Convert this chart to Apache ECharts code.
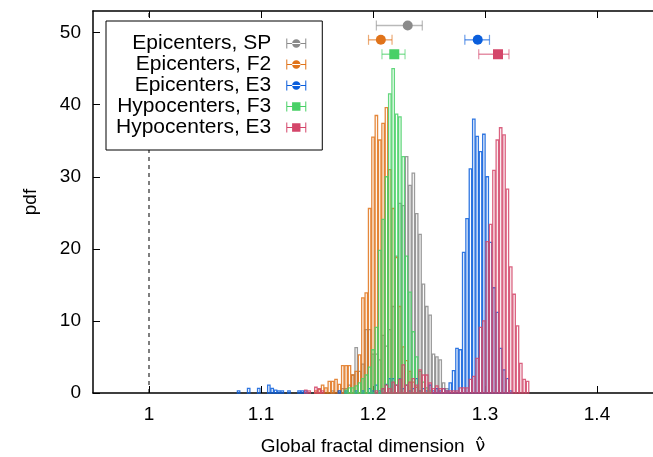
<!DOCTYPE html>
<html>
<head>
<meta charset="utf-8">
<script src="https://cdn.jsdelivr.net/npm/echarts@6/dist/echarts.min.js"></script>
<style>
  html, body { margin: 0; padding: 0; background: #fff; }
  #chart { width: 653px; height: 457px; }
</style>
</head>
<body>
<div id="chart"></div>
<script>
  // histogram bin centres (bin width 0.003)
  const binCenters = [
    1.077, 1.080, 1.083, 1.086, 1.089, 1.092, 1.095, 1.098, 1.101, 1.104,
    1.107, 1.110, 1.113, 1.116, 1.119, 1.122, 1.125, 1.128, 1.131, 1.134,
    1.137, 1.140, 1.143, 1.146, 1.149, 1.152, 1.155, 1.158, 1.161, 1.164,
    1.167, 1.170, 1.173, 1.176, 1.179, 1.182, 1.185, 1.188, 1.191, 1.194,
    1.197, 1.200, 1.203, 1.206, 1.209, 1.212, 1.215, 1.218, 1.221, 1.224,
    1.227, 1.230, 1.233, 1.236, 1.239, 1.242, 1.245, 1.248, 1.251, 1.254,
    1.257, 1.260, 1.263, 1.266, 1.269, 1.272, 1.275, 1.278, 1.281, 1.284,
    1.287, 1.290, 1.293, 1.296, 1.299, 1.302, 1.305, 1.308, 1.311, 1.314,
    1.317, 1.320, 1.323, 1.326, 1.329, 1.332, 1.335, 1.338
  ]

  const pdfEpiSP = [
    0, 0, 0, 0, 0, 0, 0, 0, 0, 0,
    0, 0, 0, 0, 0, 0, 0, 0, 0, 0,
    0, 0, 0, 0, 0, 0, 0, 0, 0, 0.3,
    0, 0.3, 0.6, 0.6, 1.1, 2.5, 6.3, 3.0, 4.0, 8.8,
    8.8, 5.4, 5.4, 4.6, 8.0, 6.5, 8.8, 12.0, 19.0, 26.3,
    26.0, 32.8, 28.8, 30.5, 24.9, 22.0, 15.1, 12.0, 10.8, 5.4,
    5.0, 4.6, 1.4, 0.6, 0, 0, 0, 0, 0, 0,
    0, 0, 0, 0, 0, 0, 0, 0, 0, 0,
    0, 0, 0, 0, 0, 0, 0, 0
  ]
  const pdfEpiF2 = [
    0, 0, 0, 0, 0, 0, 0, 0, 0, 0,
    0, 0, 0, 0, 0, 0, 0, 0, 0, 0,
    0, 0, 0, 0, 0.3, 0.5, 1.1, 0.7, 1.6, 1.6,
    1.9, 1.2, 3.8, 3.8, 3.8, 2.5, 3.0, 5.3, 13.2, 13.9,
    25.6, 35.5, 38.5, 35.1, 37.4, 39.6, 31.0, 25.6, 18.8, 12.0,
    6.4, 4.5, 3.0, 1.5, 0.8, 0.3, 0, 0, 0, 0,
    0, 0, 0, 0, 0, 0, 0, 0, 0, 0,
    0, 0, 0, 0, 0, 0, 0, 0, 0, 0,
    0, 0, 0, 0, 0, 0, 0, 0
  ]
  const pdfEpiE3 = [
    0, 0.3, 0, 0, 0.65, 0, 0, 0.65, 0, 0,
    1.1, 0.65, 0.4, 0.3, 0.3, 0, 0.3, 0, 0, 0.3,
    0.3, 0.3, 0, 0, 0, 0, 0, 0, 0, 0,
    0, 0.3, 0, 0.3, 0, 0, 0.3, 0, 0.3, 0,
    0.6, 0.3, 1.1, 0.3, 0.6, 1.2, 2.0, 2.0, 1.1, 2.0,
    0.6, 1.1, 0.3, 0.6, 2.0, 0.3, 0.6, 0.3, 1.1, 0.3,
    0.6, 0.3, 0.6, 0.3, 1.4, 3.1, 6.2, 6.0, 19.5, 24.2,
    31.1, 38.0, 35.6, 33.5, 35.9, 30.0, 20.9, 14.6, 11.2, 6.2,
    3.2, 2.0, 0.3, 0, 0, 0, 0, 0
  ]
  const pdfHypoF3 = [
    0, 0, 0, 0, 0, 0, 0, 0, 0, 0,
    0, 0, 0, 0, 0, 0, 0, 0, 0, 0,
    0, 0, 0, 0, 0, 0, 0, 0, 0, 0,
    0, 0, 0, 0.4, 0.7, 0.7, 1.0, 1.4, 2.0, 2.5,
    3.6, 6.0, 9.1, 19.8, 24.1, 30.0, 41.5, 45.0, 38.7, 38.3,
    32.8, 19.0, 14.0, 8.5, 5.0, 3.0, 1.5, 0.7, 0.3, 0,
    0, 0, 0, 0, 0, 0, 0, 0, 0, 0,
    0, 0, 0, 0, 0, 0, 0, 0, 0, 0,
    0, 0, 0, 0, 0, 0, 0, 0
  ]
  const pdfHypoE3 = [
    0, 0, 0, 0, 0, 0, 0, 0, 0, 0,
    0, 0, 0, 0, 0, 0, 0, 0, 0, 0,
    0, 0.4, 0.3, 0, 0.8, 0.6, 0.3, 0, 0, 0,
    0, 0, 0, 0, 0, 0, 0, 0, 0, 0,
    0, 0, 0.3, 0, 0.6, 1.1, 0.6, 1.5, 1.1, 1.9,
    3.9, 1.1, 1.5, 2.0, 1.1, 3.2, 2.5, 2.5, 1.4, 0.6,
    1.0, 0.6, 0.6, 0.3, 0.3, 0.3, 0.3, 0.7, 0.7, 0.7,
    1.9, 2.3, 4.8, 9.1, 10.0, 21.0, 23.4, 30.9, 35.1, 36.8,
    35.8, 28.3, 17.5, 13.7, 9.3, 4.1, 1.9, 1.6
  ]

  // point estimates with error bars drawn at the top
  const seriesNames = ['Epicenters, SP', 'Epicenters, F2', 'Epicenters, E3', 'Hypocenters, F3', 'Hypocenters, E3']
  const estCenter = [1.231, 1.207, 1.2935, 1.219, 1.3116]
  const estLow = [1.203, 1.196, 1.282, 1.208, 1.2944]
  const estHigh = [1.244, 1.217, 1.304, 1.2286, 1.3214]
  const estLevel = [51, 49, 49, 47, 47]

  const xTicks = [1, 1.1, 1.2, 1.3, 1.4]
  const yTicks = [0, 10, 20, 30, 40, 50]
  const refLineX = 1

  const colors = ['#8a8a8a', '#e0731a', '#0a5edc', '#48d066', '#d4466a']
  const markers = ['circle', 'circle', 'circle', 'square', 'square']
  const pdfs = [pdfEpiSP, pdfEpiF2, pdfEpiE3, pdfHypoF3, pdfHypoE3]
  const binWidth = binCenters[1] - binCenters[0]
  const font = 'Liberation Sans, Arial, sans-serif'

  const circleIcon = 'path://M0,0h1v10h-1z M19,0h1v10h-1z M0,4.4h20v1.2h-20z M10,0.8a4.2,4.2 0 1,0 0.001,0z'
  const squareIcon = 'path://M0,0h1v10h-1z M19,0h1v10h-1z M0,4.4h20v1.2h-20z M5.8,0.8h8.4v8.4h-8.4z'

  function renderBar(params, api) {
    let x = api.value(0)
    let h = api.value(1)
    let p0 = api.coord([x - binWidth / 2, 0])
    let p1 = api.coord([x + binWidth / 2, h])
    let w = p1[0] - p0[0]
    return {
      type: 'rect',
      shape: { x: p0[0] + w * 0.14, y: p1[1], width: w * 0.72, height: p0[1] - p1[1] },
      style: { fill: 'none', stroke: api.visual('color'), lineWidth: 1.3, opacity: 0.85 },
      silent: true
    }
  }

  function renderEst(marker) {
    return function(params, api) {
      let c = api.coord([api.value(0), api.value(1)])
      let lo = api.coord([api.value(2), api.value(1)])
      let hi = api.coord([api.value(3), api.value(1)])
      let color = api.visual('color')
      let cap = 5
      let mark = marker === 'circle'
        ? { type: 'circle', shape: { cx: c[0], cy: c[1], r: 5 }, style: { fill: color } }
        : { type: 'rect', shape: { x: c[0] - 5, y: c[1] - 5, width: 10, height: 10 }, style: { fill: color } }
      return {
        type: 'group',
        children: [
          { type: 'line', shape: { x1: lo[0], y1: c[1], x2: hi[0], y2: c[1] }, style: { stroke: color, lineWidth: 1.5, opacity: 0.6 } },
          { type: 'line', shape: { x1: lo[0], y1: c[1] - cap, x2: lo[0], y2: c[1] + cap }, style: { stroke: color, lineWidth: 1.2, opacity: 0.6 } },
          { type: 'line', shape: { x1: hi[0], y1: c[1] - cap, x2: hi[0], y2: c[1] + cap }, style: { stroke: color, lineWidth: 1.2, opacity: 0.6 } },
          mark
        ]
      }
    }
  }

  let series = []
  pdfs.forEach((vals, i) => {
    series.push({
      name: 'hist ' + seriesNames[i],
      type: 'custom',
      renderItem: renderBar,
      itemStyle: { color: colors[i] },
      data: binCenters.map((x, j) => [x, vals[j]]).filter(d => d[1] > 0),
      z: 2
    })
  })
  seriesNames.forEach((name, i) => {
    series.push({
      name: name,
      type: 'custom',
      renderItem: renderEst(markers[i]),
      itemStyle: { color: colors[i] },
      data: [[estCenter[i], estLevel[i], estLow[i], estHigh[i]]],
      z: 3
    })
  })
  series.push({
    name: 'ref',
    type: 'line',
    data: [[refLineX, 0], [refLineX, 53]],
    symbol: 'none',
    lineStyle: { color: '#000', width: 1, type: [4, 4] },
    z: 1
  })

  let chart = echarts.init(document.getElementById('chart'), null, { renderer: 'canvas' })
  let option = {
    animation: false,
    backgroundColor: '#fff',
    grid: { left: 93, right: 0, top: 11, bottom: 64, outerBoundsMode: 'none', containLabel: false },
    legend: {
      orient: 'vertical',
      left: 106,
      top: 21,
      align: 'right',
      selectedMode: false,
      data: seriesNames.map((n, i) => ({ name: n, icon: markers[i] === 'circle' ? circleIcon : squareIcon })),
      itemWidth: 20,
      itemHeight: 10,
      itemGap: 0,
      padding: [12, 16, 12, 10],
      borderColor: '#000',
      borderWidth: 1,
      borderRadius: 0,
      backgroundColor: '#fff',
      formatter: name => name + ' \u2009',
      textStyle: { fontFamily: font, fontSize: 21, color: '#000' }
    },
    xAxis: [{
      type: 'value',
      min: 0.95,
      max: 1.45,
      axisLine: { onZero: false, lineStyle: { color: '#000', width: 1.5 } },
      axisTick: { inside: true, length: 7, customValues: xTicks, lineStyle: { color: '#000' } },
      axisLabel: { customValues: xTicks, formatter: v => String(v), margin: 12, fontFamily: font, fontSize: 19, color: '#000' },
      splitLine: { show: false },
      name: 'Global fractal dimension  {nu|\u03BD\u0302}',
      nameLocation: 'middle',
      nameGap: 44,
      nameTextStyle: {
        fontFamily: font, fontSize: 19, color: '#000',
        rich: { nu: { fontFamily: 'DejaVu Sans', fontSize: 18, color: '#000' } }
      }
    }, {
      type: 'value',
      position: 'top',
      min: 0.95,
      max: 1.45,
      axisLine: { onZero: false, lineStyle: { color: '#000', width: 1.5 } },
      axisTick: { inside: true, length: 7, customValues: xTicks, lineStyle: { color: '#000' } },
      axisLabel: { show: false },
      splitLine: { show: false }
    }],
    yAxis: {
      type: 'value',
      min: 0,
      max: 53,
      axisLine: { show: true, lineStyle: { color: '#000', width: 1.5 } },
      axisTick: { show: true, inside: true, length: 7, customValues: yTicks, lineStyle: { color: '#000' } },
      axisLabel: { customValues: yTicks, margin: 12, fontFamily: font, fontSize: 19, color: '#000' },
      splitLine: { show: false },
      name: 'pdf',
      nameLocation: 'middle',
      nameGap: 53,
      nameTextStyle: { fontFamily: font, fontSize: 19, color: '#000' }
    },
    series: series
  }
  chart.setOption(option)
</script>
</body>
</html>
